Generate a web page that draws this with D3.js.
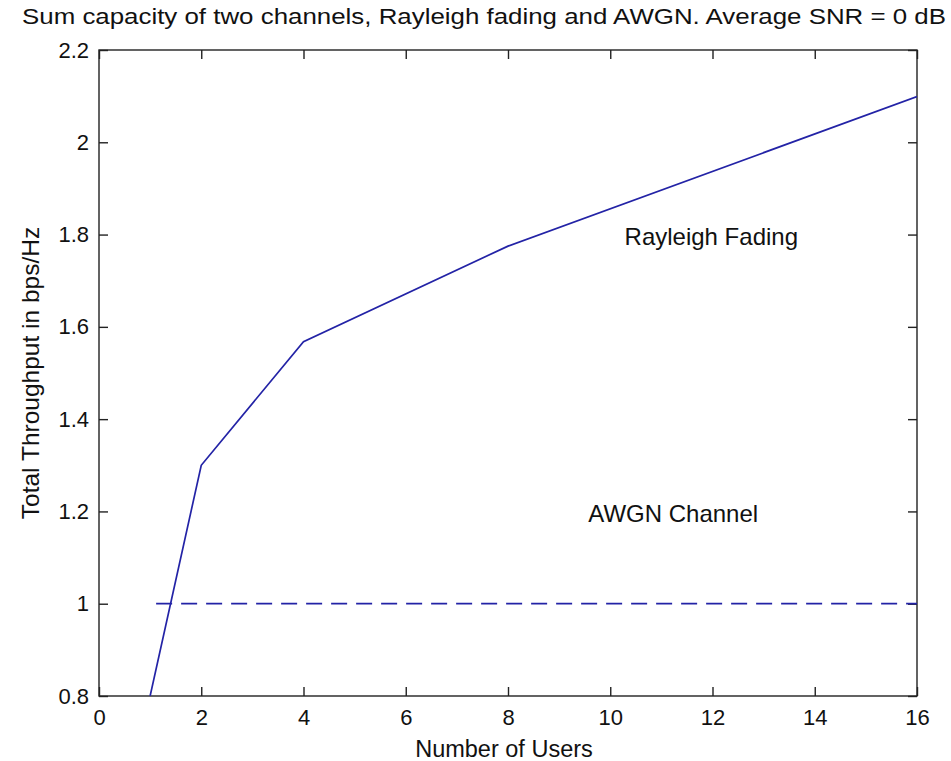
<!DOCTYPE html>
<html>
<head>
<meta charset="utf-8">
<script src="https://cdn.jsdelivr.net/npm/d3@7"></script>
<style>
  html, body { margin: 0; padding: 0; background: #fff; }
  svg { display: block; }
  text { font-family: "Liberation Sans", Arial, sans-serif; fill: #111; }
</style>
</head>
<body>
<svg id="chart" width="951" height="761"></svg>
<script>
// ---- data ----
const users = [1, 2, 4, 8, 16];
const rayleighThroughput = [0.80, 1.30, 1.568, 1.775, 2.099];
const awgnUsers = [1, 16];
const awgnThroughput = [1.0, 1.0];
const xTicks = [0, 2, 4, 6, 8, 10, 12, 14, 16];
const yTicks = [0.8, 1.0, 1.2, 1.4, 1.6, 1.8, 2.0, 2.2];
const yTickLabels = ["0.8", "1", "1.2", "1.4", "1.6", "1.8", "2", "2.2"];
const titleText = "Sum capacity of two channels, Rayleigh fading and AWGN. Average SNR = 0 dB";
const xLabelText = "Number of Users";
const yLabelText = "Total Throughput in bps/Hz";
const annotations = [
  { text: "Rayleigh Fading", x: 10.28, y: 1.795 },
  { text: "AWGN Channel", x: 9.57, y: 1.195 }
];

// ---- layout ----
(function () {
const svg = d3.select("#chart");
const mL = 99, mR = 917, mT = 50, mB = 696;
const x = d3.scaleLinear().domain([0, 16]).range([mL, mR]);
const y = d3.scaleLinear().domain([0.8, 2.2]).range([mB, mT]);
const tickLen = 9;
const axisColor = "#222";

svg.append("rect")
  .attr("x", mL).attr("y", mT)
  .attr("width", mR - mL).attr("height", mB - mT)
  .attr("fill", "#fff").attr("stroke", axisColor).attr("stroke-width", 1.4);

const fmtY = d => yTickLabels[yTicks.indexOf(d)];
const xAxisB = d3.axisBottom(x).tickValues(xTicks).tickSizeInner(-tickLen).tickSizeOuter(0).tickPadding(13);
const xAxisT = d3.axisTop(x).tickValues(xTicks).tickSizeInner(-tickLen).tickSizeOuter(0).tickFormat("");
const yAxisL = d3.axisLeft(y).tickValues(yTicks).tickSizeInner(-tickLen).tickSizeOuter(0).tickPadding(10).tickFormat(fmtY);
const yAxisR = d3.axisRight(y).tickValues(yTicks).tickSizeInner(-tickLen).tickSizeOuter(0).tickFormat("");

function style(g) {
  g.select(".domain").remove();
  g.selectAll(".tick line").attr("stroke", axisColor).attr("stroke-width", 1.4);
  g.selectAll(".tick text").attr("fill", "#111")
    .style("font-family", '"Liberation Sans", Arial, sans-serif').style("font-size", "22px");
}
svg.append("g").attr("transform", `translate(0,${mB})`).call(xAxisB).call(style);
svg.append("g").attr("transform", `translate(0,${mT})`).call(xAxisT).call(style);
svg.append("g").attr("transform", `translate(${mL},0)`).call(yAxisL).call(style);
svg.append("g").attr("transform", `translate(${mR},0)`).call(yAxisR).call(style);

svg.append("clipPath").attr("id", "plotclip")
  .append("rect").attr("x", mL).attr("y", mT).attr("width", mR - mL).attr("height", mB - mT);

const line = d3.line().x(d => x(d[0])).y(d => y(d[1]));
const lineColor = "#2323a6";

svg.append("path")
  .datum(users.map((u, i) => [u, rayleighThroughput[i]]))
  .attr("clip-path", "url(#plotclip)")
  .attr("d", line).attr("fill", "none")
  .attr("stroke", lineColor).attr("stroke-width", 1.7);

svg.append("path")
  .datum(awgnUsers.map((u, i) => [u, awgnThroughput[i]]))
  .attr("clip-path", "url(#plotclip)")
  .attr("d", line).attr("fill", "none")
  .attr("stroke", lineColor).attr("stroke-width", 1.7)
  .attr("stroke-dasharray", "16,9").attr("stroke-dashoffset", 19);

svg.selectAll("text.anno").data(annotations).enter().append("text")
  .attr("class", "anno")
  .attr("x", d => x(d.x)).attr("y", d => y(d.y))
  .attr("dominant-baseline", "central")
  .style("font-size", "24px")
  .text(d => d.text);

svg.append("text")
  .attr("x", 22).attr("y", 24)
  .attr("textLength", 924).attr("lengthAdjust", "spacingAndGlyphs")
  .style("font-size", "22px")
  .text(titleText);

svg.append("text")
  .attr("x", 504).attr("y", 757)
  .attr("text-anchor", "middle")
  .style("font-size", "23.5px")
  .text(xLabelText);

svg.append("text")
  .attr("transform", `translate(39,${(mT + mB) / 2}) rotate(-90)`)
  .attr("text-anchor", "middle")
  .style("font-size", "24.5px")
  .text(yLabelText);
})();
</script>
</body>
</html>
